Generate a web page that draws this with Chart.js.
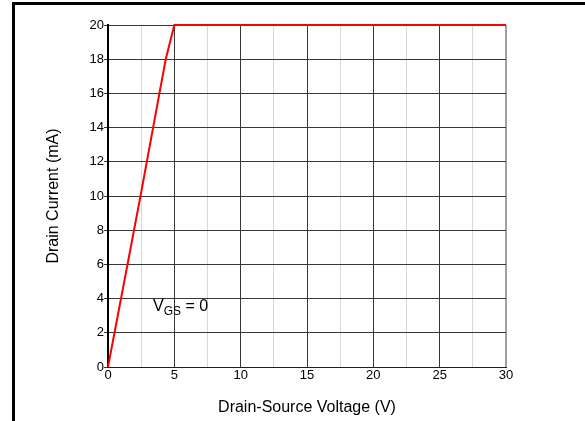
<!DOCTYPE html>
<html>
<head>
<meta charset="utf-8">
<script src="https://cdn.jsdelivr.net/npm/chart.js@4.4.1/dist/chart.umd.min.js"></script>
<style>
  html, body { margin: 0; padding: 0; background: #fff; }
  #wrap { position: relative; width: 585px; height: 421px; overflow: hidden; }
  #frame {
    position: absolute; left: 12px; top: 2px; right: -10px; bottom: -10px;
    border-left: 3px solid #000; border-top: 3px solid #000;
    pointer-events: none;
  }
  canvas { position: absolute; left: 0; top: 0; }
</style>
</head>
<body>
<div id="wrap">
  <canvas id="chart" width="585" height="421"></canvas>
  <div id="frame"></div>
</div>
<script>
// drain current vs drain-source voltage, VGS = 0
const vds = [0, 2.45, 4.35, 5, 30];
const idrain = [0, 10, 18, 20, 20];
const xTicks = [0, 5, 10, 15, 20, 25, 30];
const yTicks = [0, 2, 4, 6, 8, 10, 12, 14, 16, 18, 20];
const noteAt = { x: 3.4, y: 3.3 };

const font = 'Arial, "Liberation Sans", sans-serif';

const noteLabel = {
  id: 'noteLabel',
  afterDraw(chart) {
    const { ctx, scales } = chart;
    let x = scales.x.getPixelForValue(noteAt.x);
    const y = scales.y.getPixelForValue(noteAt.y);
    ctx.save();
    ctx.fillStyle = '#000';
    ctx.textBaseline = 'alphabetic';
    ctx.font = '16px ' + font;
    ctx.fillText('V', x, y);
    x += ctx.measureText('V').width;
    ctx.font = '12px ' + font;
    ctx.fillText('GS', x, y + 4);
    x += ctx.measureText('GS').width;
    ctx.font = '16px ' + font;
    ctx.fillText(' = 0', x, y);
    ctx.restore();
  }
};

new Chart(document.getElementById('chart'), {
  type: 'line',
  data: {
    datasets: [{
      data: vds.map((v, i) => ({ x: v, y: idrain[i] })),
      borderColor: '#ff0000',
      borderWidth: 2,
      pointRadius: 0,
      tension: 0,
      clip: 4
    }]
  },
  options: {
    responsive: false,
    devicePixelRatio: 1,
    animation: false,
    layout: { padding: { left: 40, top: 25, right: 79, bottom: 0 } },
    plugins: { legend: { display: false }, tooltip: { enabled: false } },
    scales: {
      x: {
        type: 'linear',
        min: 0, max: 30,
        afterFit(s) { s.height = 54; },
        afterBuildTicks(s) {
          const t = [];
          for (let v = 0; v <= 30; v += 2.5) t.push({ value: v });
          s.ticks = t;
        },
        ticks: {
          color: '#000',
          font: { family: font, size: 13 },
          padding: 1,
          maxRotation: 0,
          autoSkip: false,
          callback: v => xTicks.includes(v) ? String(v) : ''
        },
        grid: {
          drawTicks: false,
          color: c => c.tick.value === 30 ? '#a0a0a0' : (c.tick.value % 5 === 0 ? '#383838' : '#d8d8d8'),
          lineWidth: c => c.tick.value === 30 ? 2 : 1
        },
        border: { color: '#202020', width: 1 },
        title: {
          display: true,
          text: 'Drain-Source Voltage (V)',
          color: '#000',
          font: { family: font, size: 16 },
          padding: { top: 4, bottom: 4 }
        }
      },
      y: {
        type: 'linear',
        min: 0, max: 20,
        afterFit(s) { s.width = 68; },
        afterBuildTicks(s) { s.ticks = yTicks.map(v => ({ value: v })); },
        ticks: {
          color: '#000',
          font: { family: font, size: 13 },
          padding: 0,
          autoSkip: false
        },
        grid: { color: '#383838', lineWidth: 1, tickLength: 4 },
        border: { color: '#000', width: 2 },
        title: {
          display: true,
          text: 'Drain Current (mA)',
          color: '#000',
          font: { family: font, size: 16 },
          padding: { top: 4, bottom: 4 }
        }
      }
    }
  },
  plugins: [noteLabel]
});
</script>
</body>
</html>
